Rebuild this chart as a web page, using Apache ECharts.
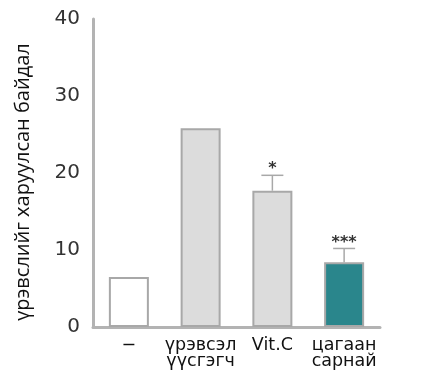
<!DOCTYPE html>
<html><head><meta charset="utf-8">
<script src="https://cdn.jsdelivr.net/npm/echarts@6/dist/echarts.min.js"></script>
<style>html,body{margin:0;padding:0;background:#fff}#c{width:437px;height:380px}</style>
</head><body><div id="c"></div>
<script>
const categories = ['−', 'үрэвсэл\nүүсгэгч', 'Vit.C', 'цагаан\nсарнай'];
const values = [6.5, 25.8, 17.7, 8.4];
const errorTops = [null, null, 19.7, 10.2];
const significance = ['', '', '*', '***'];
const barColors = ['#ffffff', '#dcdcdc', '#dcdcdc', '#2a868c'];
const yTicks = [0, 10, 20, 30, 40];
const yName = 'үрэвслийг харуулсан байдал';

const chart = echarts.init(document.getElementById('c'));
chart.setOption({
  animation: false,
  grid: { left: 93, right: 57, top: 19, bottom: 53 },
  xAxis: {
    type: 'category', data: categories,
    axisLine: { lineStyle: { color: '#b3b3b3', width: 3 } },
    axisTick: { show: false },
    axisLabel: { color: '#111', fontSize: 17.5, fontFamily: 'DejaVu Sans', lineHeight: 16, margin: 10, interval: 0 }
  },
  yAxis: {
    type: 'value', min: 0, max: 40, interval: 10,
    name: yName, nameLocation: 'middle', nameGap: 60, nameRotate: 90,
    nameTextStyle: { color: '#111', fontSize: 20, fontFamily: 'Open Sans', padding: [0, 18, 0, 0] },
    axisLine: { show: true, lineStyle: { color: '#b3b3b3', width: 3 } },
    axisTick: { show: false }, splitLine: { show: false },
    axisLabel: { color: '#333', fontSize: 20, fontFamily: 'DejaVu Sans', margin: 13,
      formatter: v => yTicks.includes(v) ? String(v) : '' }
  },
  series: [
    {
      type: 'bar', barWidth: 40,
      data: values.map((v, i) => ({ value: v, itemStyle: { color: barColors[i] } })),
      itemStyle: { borderColor: '#a8a8a8', borderWidth: 2 }
    },
    {
      type: 'custom',
      data: values.map((v, i) => [i, v, errorTops[i], significance[i]]),
      renderItem: function (params, api) {
        const top = api.value(2);
        if (top === null || top === undefined || isNaN(top)) return null;
        const base = api.coord([api.value(0), api.value(1)]);
        const t = api.coord([api.value(0), top]);
        const hw = 11;
        return {
          type: 'group',
          children: [
            { type: 'line', shape: { x1: base[0], y1: base[1], x2: t[0], y2: t[1] }, style: { stroke: '#a8a8a8', lineWidth: 1.5 } },
            { type: 'line', shape: { x1: t[0] - hw, y1: t[1], x2: t[0] + hw, y2: t[1] }, style: { stroke: '#a8a8a8', lineWidth: 1.5 } },
            { type: 'text', style: { text: api.value(3), x: t[0], y: t[1] + 2, align: 'center', verticalAlign: 'bottom', fill: '#333', fontSize: 16, fontWeight: 'bold', fontFamily: 'DejaVu Sans' } }
          ]
        };
      },
      z: 3
    }
  ]
});
</script></body></html>
